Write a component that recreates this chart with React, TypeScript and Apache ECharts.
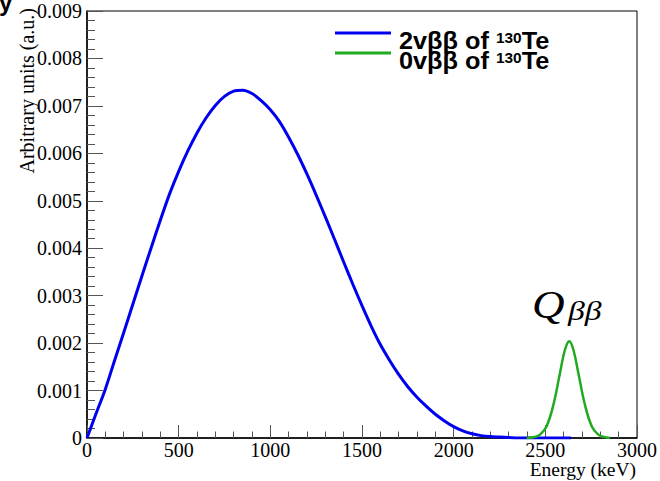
import React, { useEffect, useRef } from "react";
import * as echarts from "echarts";

// 2νββ summed-electron spectrum of 130Te (keV, arbitrary units)
const twoNuEnergyKeV = [
  0, 50, 100, 150, 200, 250, 300, 350, 400, 450, 500, 550, 600, 650, 700, 750,
  800, 850, 900, 950, 1000, 1050, 1100, 1150, 1200, 1250, 1300, 1350, 1400,
  1450, 1500, 1550, 1600, 1650, 1700, 1750, 1800, 1850, 1900, 1950, 2000, 2050,
  2100, 2150, 2200, 2250, 2300, 2350, 2400, 2450, 2500, 2550, 2600, 2640,
];
const twoNuCounts = [
  0, 0.00052, 0.00103, 0.00163, 0.00222, 0.00282, 0.00342, 0.00401, 0.00459,
  0.00514, 0.00562, 0.00605, 0.00643, 0.00675, 0.00701, 0.0072, 0.00731,
  0.00733, 0.00726, 0.00711, 0.00692, 0.00667, 0.00634, 0.00597, 0.00556,
  0.00512, 0.00466, 0.00419, 0.00371, 0.00324, 0.00279, 0.00236, 0.00197,
  0.00164, 0.00134, 0.00108, 0.00086, 0.00067, 0.0005, 0.00036, 0.00024,
  0.00015, 0.00009, 0.00005, 0.00003, 0.00002, 0.00001, 0, 0, 0, 0, 0, 0, 0,
];

// 0νββ peak at the Q-value
const zeroNuEnergyKeV = [
  2398, 2440, 2471, 2507, 2544, 2580, 2607, 2631, 2653, 2680, 2716, 2753, 2789,
  2820, 2853,
];
const zeroNuCounts = [
  0, 0.00002, 0.00007, 0.00025, 0.0007, 0.00137, 0.00186, 0.00204, 0.00186,
  0.00137, 0.0007, 0.00025, 0.00007, 0.00002, 0,
];

const seriesNames = ["2vββ of 130Te", "0vββ of 130Te"];
const seriesColors = ["#0000f0", "#1faa1f"];

const serif = "'Liberation Serif', 'Times New Roman', serif";
const sans = "'Liberation Sans', Arial, Helvetica, sans-serif";

export default function App() {
  const ref = useRef<HTMLDivElement>(null);

  useEffect(() => {
    document.body.style.margin = "0";
    const chart = echarts.init(ref.current!, null, { renderer: "svg" });

    const tickLine = { color: "#555", width: 1 };
    const axisLabel = {
      fontFamily: serif,
      fontSize: 20,
      color: "#000",
    };

    const legendRich = {
      b: { fontFamily: sans, fontWeight: "bold", fontSize: 23, lineHeight: 19, color: "#000" },
      s: {
        fontFamily: sans,
        fontWeight: "bold",
        fontSize: 14,
        lineHeight: 11,
        verticalAlign: "top",
        color: "#000",
      },
    };
    const legendText = (name: string) => {
      const [head, tail] = name.split("130");
      return `{b|${head}}{s|130}{b|${tail}}`;
    };

    chart.setOption({
      animation: false,
      backgroundColor: "#ffffff",
      grid: {
        left: 87,
        right: 23,
        top: 11,
        bottom: 43,
        show: true,
        borderColor: "#000",
        borderWidth: 1,
        backgroundColor: "transparent",
      },
      xAxis: {
        type: "value",
        min: 0,
        max: 3000,
        interval: 500,
        axisLine: { onZero: false, lineStyle: { color: "#000", width: 1.5 } },
        axisTick: { inside: true, length: 13, lineStyle: tickLine },
        minorTick: { show: true, splitNumber: 5, length: 6.5, lineStyle: tickLine },
        axisLabel: { ...axisLabel, margin: 2, formatter: (v: number) => String(v) },
        splitLine: { show: false },
        minorSplitLine: { show: false },
      },
      yAxis: {
        type: "value",
        min: 0,
        max: 0.009,
        interval: 0.001,
        axisLine: { show: true, onZero: false, lineStyle: { color: "#000", width: 1.5 } },
        axisTick: { show: true, inside: true, length: 16, lineStyle: tickLine },
        minorTick: { show: true, splitNumber: 5, length: 8, lineStyle: tickLine },
        axisLabel: {
          ...axisLabel,
          margin: 5,
          formatter: (v: number) => (v === 0 ? "0" : v.toFixed(3)),
        },
        splitLine: { show: false },
        minorSplitLine: { show: false },
      },
      series: [
        {
          name: seriesNames[0],
          type: "line",
          data: twoNuEnergyKeV.map((e, i) => [e, twoNuCounts[i]]),
          showSymbol: false,
          smooth: 0.3,
          lineStyle: { color: seriesColors[0], width: 3 },
          z: 2,
        },
        {
          name: seriesNames[1],
          type: "line",
          data: zeroNuEnergyKeV.map((e, i) => [e, zeroNuCounts[i]]),
          showSymbol: false,
          smooth: 0.4,
          lineStyle: { color: seriesColors[1], width: 2.5 },
          z: 3,
        },
      ],
      graphic: [
        // legend
        {
          type: "line",
          shape: { x1: 335, y1: 33, x2: 391, y2: 33 },
          style: { stroke: seriesColors[0], lineWidth: 3 },
        },
        {
          type: "line",
          shape: { x1: 335, y1: 53, x2: 391, y2: 53 },
          style: { stroke: seriesColors[1], lineWidth: 3 },
        },
        {
          type: "text",
          x: 399,
          y: 31,
          scaleX: 1.1,
          style: { text: legendText(seriesNames[0]), rich: legendRich, verticalAlign: "top" },
        },
        {
          type: "text",
          x: 399,
          y: 51,
          scaleX: 1.1,
          style: { text: legendText(seriesNames[1]), rich: legendRich, verticalAlign: "top" },
        },
        // Q-value annotation
        {
          type: "text",
          x: 532,
          y: 304,
          scaleX: 1.1,
          style: {
            text: "Q",
            fontFamily: serif,
            fontStyle: "italic",
            fontSize: 41,
            fill: "#000",
            verticalAlign: "middle",
          },
        },
        {
          type: "text",
          x: 568,
          y: 311,
          scaleX: 1.25,
          style: {
            text: "ββ",
            fontFamily: serif,
            fontStyle: "italic",
            fontSize: 27,
            fill: "#000",
            verticalAlign: "middle",
          },
        },
        // axis titles
        {
          type: "text",
          x: 26.5,
          y: 8,
          rotation: Math.PI / 2,
          style: {
            text: "Arbitrary units (a.u.)",
            fontFamily: serif,
            fontSize: 20,
            fill: "#000",
            align: "right",
            verticalAlign: "middle",
          },
        },
        {
          type: "text",
          x: 636,
          y: 469.5,
          style: {
            text: "Energy (keV)",
            fontFamily: serif,
            fontSize: 19.5,
            fill: "#000",
            align: "right",
            verticalAlign: "middle",
          },
        },
        {
          type: "text",
          x: -1,
          y: 2,
          style: {
            text: "y",
            fontFamily: sans,
            fontWeight: "bold",
            fontSize: 24,
            fill: "#000",
            verticalAlign: "middle",
          },
        },
      ],
    });

    return () => chart.dispose();
  }, []);

  return (
    <div
      ref={ref}
      style={{ position: "absolute", left: 0, top: 0, width: 660, height: 481 }}
    />
  );
}
